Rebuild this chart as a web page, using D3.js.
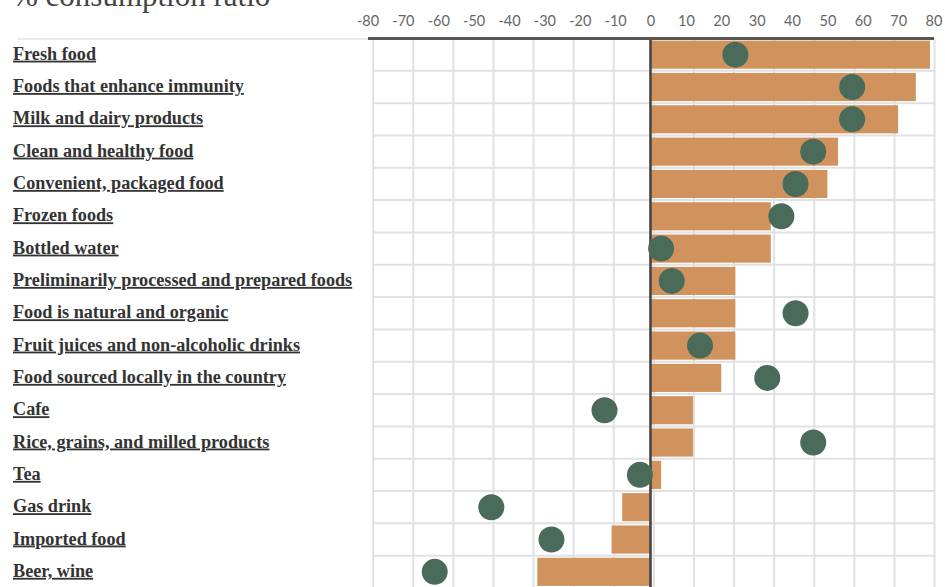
<!DOCTYPE html>
<html>
<head>
<meta charset="utf-8">
<script src="https://cdn.jsdelivr.net/npm/d3@7"></script>
<style>
  html, body { margin: 0; padding: 0; background: #fff; }
  svg { display: block; }
</style>
</head>
<body>
<svg id="chart" width="945" height="587"></svg>
<script>
// Product categories, top to bottom
const categories = [
  "Fresh food",
  "Foods that enhance immunity",
  "Milk and dairy products",
  "Clean and healthy food",
  "Convenient, packaged food",
  "Frozen foods",
  "Bottled water",
  "Preliminarily processed and prepared foods",
  "Food is natural and organic",
  "Fruit juices and non-alcoholic drinks",
  "Food sourced locally in the country",
  "Cafe",
  "Rice, grains, and milled products",
  "Tea",
  "Gas drink",
  "Imported food",
  "Beer, wine"
];

// Bars: % consumption ratio
const barValues = [79, 75, 70, 53, 50, 34, 34, 24, 24, 24, 20, 12, 12, 3, -8, -11, -32];
// Dots: comparison series
const dotValues = [24, 57, 57, 46, 41, 37, 3, 6, 41, 14, 33, -13, 46, -3, -45, -28, -61];

// Axis tick labels
const tickValues = [-80, -70, -60, -50, -40, -30, -20, -10, 0, 10, 20, 30, 40, 50, 60, 70, 80];

const titleText = "% consumption ratio";

const svg = d3.select("#chart");

const x = d3.scaleLinear().domain([-80, 80]).range([367.5, 933.5]);
const y = d3.scaleBand()
  .domain(categories)
  .range([38.5, 588])
  .paddingInner(0.13)
  .paddingOuter(0.065);

const step = y.step();
const rowTop = c => y(c) - y.paddingOuter() * step;

// Title (runs off the top edge)
svg.append("text")
  .attr("x", 12)
  .attr("y", 6)
  .attr("font-family", "Liberation Serif, serif")
  .attr("font-size", 31)
  .attr("fill", "#444")
  .text(titleText);

// Thin divider under the header across the label column
svg.append("line")
  .attr("x1", 17).attr("x2", 370)
  .attr("y1", 39).attr("y2", 39)
  .attr("stroke", "#d8d8d8")
  .attr("stroke-width", 1.2);

// Background grid: 14 equal cells across the plot
const gridLeft = x(-78.4), gridRight = x(80.3);
const gridX = d3.range(15).map(i => gridLeft + i * (gridRight - gridLeft) / 14);
const grid = svg.append("g");
grid.selectAll("line.v")
  .data(gridX)
  .join("line")
  .attr("class", "v")
  .attr("x1", d => d).attr("x2", d => d)
  .attr("y1", 39).attr("y2", 587)
  .attr("stroke", "#e1e1e1")
  .attr("stroke-width", 2);
grid.selectAll("line.h")
  .data(categories.slice(1))
  .join("line")
  .attr("class", "h")
  .attr("x1", gridLeft).attr("x2", gridRight)
  .attr("y1", d => rowTop(d)).attr("y2", d => rowTop(d))
  .attr("stroke", "#e1e1e1")
  .attr("stroke-width", 2);

// Bars
svg.append("g").selectAll("rect")
  .data(categories)
  .join("rect")
  .attr("x", (d, i) => x(Math.min(0, barValues[i])))
  .attr("width", (d, i) => Math.abs(x(barValues[i]) - x(0)))
  .attr("y", d => y(d))
  .attr("height", y.bandwidth())
  .attr("fill", "#d0935e");

// Zero line
svg.append("line")
  .attr("x1", x(0)).attr("x2", x(0))
  .attr("y1", 38).attr("y2", 587)
  .attr("stroke", "#4a4444")
  .attr("stroke-width", 2.6);

// Top axis
const axis = d3.axisTop(x)
  .tickValues(tickValues)
  .tickSize(0)
  .tickPadding(0)
  .tickFormat(d => d);
const axisG = svg.append("g")
  .attr("transform", "translate(0,38)")
  .call(axis);
axisG.select(".domain")
  .attr("stroke", "#555")
  .attr("stroke-width", 3);
axisG.selectAll("text")
  .attr("y", -12)
  .attr("font-family", "Lato, sans-serif")
  .attr("font-size", 14.5)
  .attr("fill", "#666");

// Dots
svg.append("g").selectAll("circle")
  .data(categories)
  .join("circle")
  .attr("cx", (d, i) => x(dotValues[i]))
  .attr("cy", d => y(d) + y.bandwidth() / 2)
  .attr("r", 13)
  .attr("fill", "#4a6b59");

// Category labels
svg.append("g").selectAll("text")
  .data(categories)
  .join("text")
  .attr("x", 13)
  .attr("y", d => y(d) + y.bandwidth() / 2 + 5)
  .attr("font-family", "Liberation Serif, serif")
  .attr("font-weight", "bold")
  .attr("font-size", 18.2)
  .attr("fill", "#333")
  .style("text-decoration", "underline")
  .text(d => d);
</script>
</body>
</html>
